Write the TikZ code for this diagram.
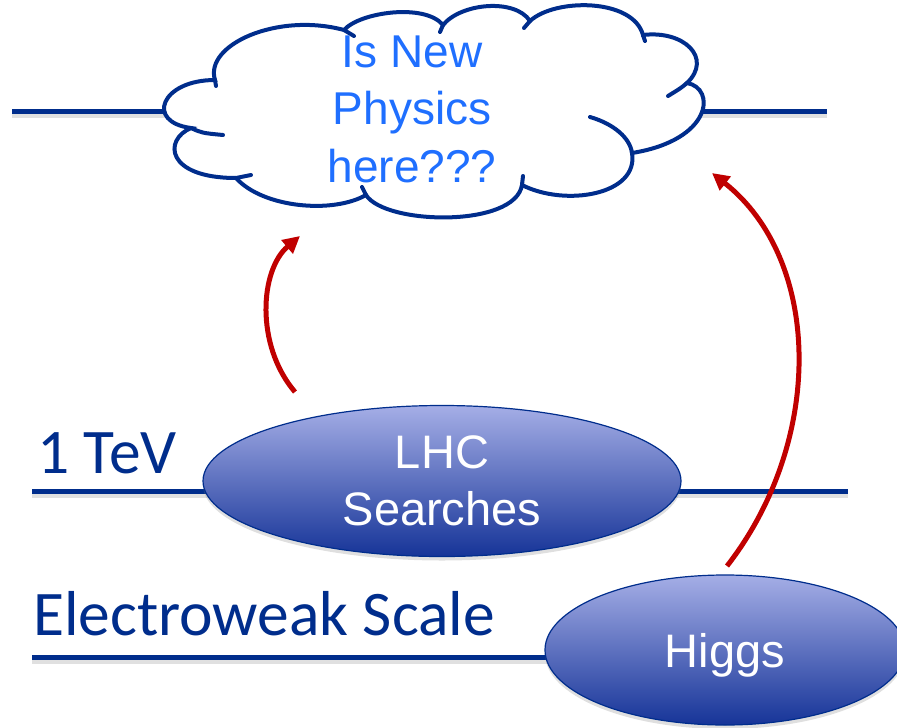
\documentclass[tikz,border=0pt]{standalone}
\usepackage{fontspec}
\setmainfont{Liberation Sans}
\newfontfamily\calib{Carlito}
\usetikzlibrary{shapes, arrows.meta, shadows}

\definecolor{navy}{RGB}{0,45,140}
\definecolor{skyblue}{RGB}{31,111,255}
\definecolor{darkred}{RGB}{192,0,0}
\definecolor{blobtop}{RGB}{165,174,230}
\definecolor{blobbot}{RGB}{22,52,152}

\begin{document}
\begin{tikzpicture}[
      x=1pt, y=-1pt,
      scale line/.style={draw=navy, line width=5pt},
      line shadow/.style={draw=black, opacity=.12, line width=5pt},
      puff/.style={draw=navy, line width=4pt, line cap=round},
      blob/.style={ellipse, draw=navy, line width=1.2pt, inner sep=0pt,
        top color=blobtop, bottom color=blobbot, text=white,
        align=center, font=\fontsize{47}{57}\selectfont,
        drop shadow={shadow xshift=0pt, shadow yshift=-4pt, opacity=.25}},
      level label/.style={anchor=base west, inner sep=0pt, text=navy,
        font=\calib\fontsize{63.5}{70}\selectfont},
      hint/.style={draw=darkred, line width=5pt,
        -{Triangle[length=17pt, width=17pt]}}
    ]
    \useasboundingbox (0,0) rectangle (897,728);
    \clip (0,0) rectangle (897,728);

    \coordinate (top l) at (12,111);
    \coordinate (top r) at (827,111);
    \coordinate (tev l) at (32,491);
    \coordinate (tev r) at (848,491);
    \coordinate (ew l)  at (32,657);
    \coordinate (ew r)  at (600,657);

    \draw[line shadow] ([yshift=-4pt]top l) -- ([yshift=-4pt]top r);
    \draw[line shadow] ([yshift=-4pt]tev l) -- ([yshift=-4pt]tev r);
    \draw[line shadow] ([yshift=-4pt]ew l) -- ([yshift=-4pt]ew r);
    \draw[scale line] (top l) -- (top r);
    \draw[scale line] (tev l) -- (tev r);
    \draw[scale line] (ew l) -- (ew r);

    % the thought bubble
    \path[puff, fill=white] (215,80)
      .. controls (204,45) and (277,12) .. (344,30)
      .. controls (360,12) and (425,3) .. (443,25)
      .. controls (461,3) and (515,-2) .. (530,21)
      .. controls (555,-2) and (633,-2) .. (643,35)
      .. controls (684,30) and (713,58) .. (687,83)
      .. controls (716,88) and (713,140) .. (632,153)
      .. controls (639,195) and (565,207) .. (522,185)
      .. controls (515,228) and (385,225) .. (366,195)
      .. controls (333,214) and (263,208) .. (236,178)
      .. controls (166,178) and (163,140) .. (191,128)
      .. controls (145,122) and (161,80) .. (215,80) -- cycle;
    \draw[puff] (215,80) -- (216,86);
    \draw[puff] (344,30) -- (354,36);
    \draw[puff] (443,25) -- (440,32);
    \draw[puff] (530,21) -- (524,28);
    \draw[puff] (643,35) -- (645,41);
    \draw[puff] (687,83) .. controls (681,88) .. (668,96);
    \draw[puff] (590,117) .. controls (614,124) and (630,138) .. (632,153);
    \draw[puff] (522,185) -- (523,176);
    \draw[puff] (366,195) -- (362,187);
    \draw[puff] (236,178) -- (251,175);
    \draw[puff] (191,128) .. controls (202,133) .. (223,135);

    \node (np) [inner sep=0pt, align=center, text=skyblue,
      font=\fontsize{46}{57.5}\selectfont] at (412,109)
      {Is New\\Physics\\here???};

    \node (lhc) [blob, minimum width=478pt, minimum height=151pt] at (442,481)
      {LHC\\Searches};
    \node (higgs) [blob, minimum width=360pt, minimum height=150pt,
      text depth=0pt] at (725,650) {Higgs};

    \node (tev) [level label] at (37,473) {1 TeV};
    \node (ew) [level label] at (33,635) {Electroweak Scale};

    \coordinate (lhc up) at (295,392);
    \coordinate (np left) at (300,236);
    \coordinate (higgs up) at (727,566);
    \coordinate (np right) at (712,173);

    \draw[hint] (lhc up) .. controls (255,345) and (260,270) .. (np left);
    \draw[hint] (higgs up) .. controls (825,440) and (822,260) .. (np right);
\end{tikzpicture}
\end{document}
